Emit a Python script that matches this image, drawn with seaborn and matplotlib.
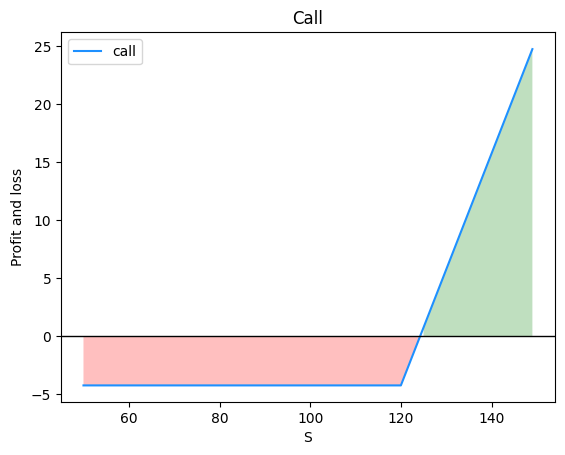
import numpy as np
import seaborn as sns
import matplotlib.pyplot as plt

# Call option P&L (strike 120, premium ~4.25)
S = np.array([50, 120, 124, 125, 149])
pnl = np.array([-4.25, -4.25, -0.25, 0.75, 24.75])

fig, ax = plt.subplots(figsize=(5.65, 4.55), dpi=100)
fig.subplots_adjust(left=0.108, right=0.982, bottom=0.116, top=0.929)

sns.lineplot(x=S, y=pnl, color='dodgerblue', label='call', ax=ax)
ax.axhline(0, color='black', lw=1)
ax.fill_between(S, pnl, 0, where=pnl > 0, facecolor='green', alpha=0.25)
ax.fill_between(S, pnl, 0, where=pnl < 0, facecolor='red', alpha=0.25)

ax.set_title('Call')
ax.set_xlabel('S')
ax.set_ylabel('Profit and loss')
ax.legend(loc='upper left')

plt.savefig('out.png')
